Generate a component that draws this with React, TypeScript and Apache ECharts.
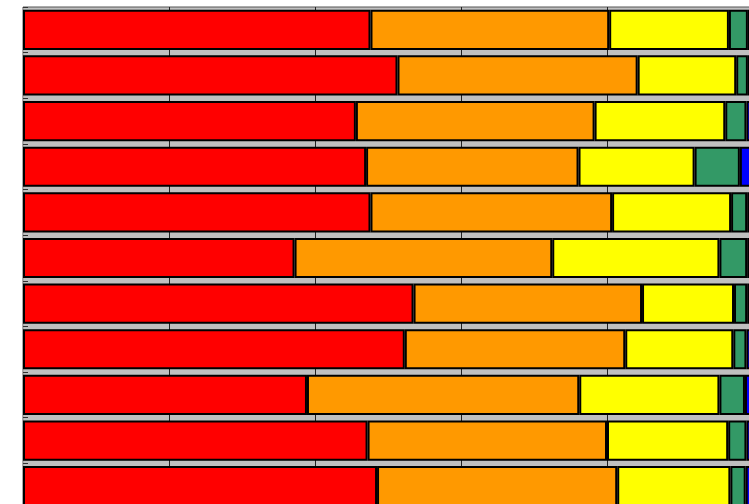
import React, { useEffect, useRef } from "react";
import * as echarts from "echarts";

const categories = ["1", "2", "3", "4", "5", "6", "7", "8", "9", "10", "11"];
const redValues = [47.6, 51.3, 45.6, 47.0, 47.6, 37.2, 53.5, 52.3, 38.9, 47.2, 48.5];
const orangeValues = [32.7, 32.9, 32.7, 29.1, 33.1, 35.3, 31.3, 30.2, 37.3, 32.8, 32.9];
const yellowValues = [16.4, 13.5, 17.9, 15.9, 16.3, 22.9, 12.6, 14.8, 19.2, 16.6, 15.5];
const greenValues = [2.6, 1.6, 2.9, 6.2, 2.2, 3.8, 1.8, 1.8, 3.5, 2.5, 2.1];
const blueValues = [0.7, 0.7, 1.0, 1.9, 0.8, 0.8, 0.8, 0.9, 1.1, 0.9, 0.9];

const seriesDefs = [
  { name: "red", data: redValues, color: "#ff0000" },
  { name: "orange", data: orangeValues, color: "#ff9900" },
  { name: "yellow", data: yellowValues, color: "#ffff00" },
  { name: "green", data: greenValues, color: "#339966" },
  { name: "blue", data: blueValues, color: "#0000ff" },
];

export default function App() {
  const ref = useRef<HTMLDivElement>(null);
  useEffect(() => {
    if (!ref.current) return;
    const chart = echarts.init(ref.current, null, { renderer: "svg" });
    chart.setOption({
      animation: false,
      backgroundColor: "#ffffff",
      grid: {
        show: true,
        left: 23,
        top: 7,
        width: 730,
        height: 502,
        outerBoundsMode: "none",
        containLabel: false,
        backgroundColor: "#c0c0c0",
        borderColor: "#555555",
        borderWidth: 1,
      },
      xAxis: {
        type: "value",
        min: 0,
        max: 100,
        interval: 20,
        axisLabel: { show: false },
        axisLine: { show: false },
        axisTick: { show: false },
        splitLine: { show: true, lineStyle: { color: "#222222", width: 1 } },
      },
      yAxis: {
        type: "category",
        data: categories,
        inverse: true,
        axisLabel: { show: false },
        axisLine: { show: true, lineStyle: { color: "#a8a8a8", width: 1 } },
        axisTick: { show: true, inside: true, length: 5, lineStyle: { color: "#333333" } },
        splitLine: { show: false },
      },
      series: seriesDefs.map((s) => ({
        name: s.name,
        type: "bar",
        stack: "total",
        data: s.data,
        barCategoryGap: "12%",
        itemStyle: { color: s.color, borderColor: "#000000", borderWidth: 2 },
      })),
    });
    return () => chart.dispose();
  }, []);
  return (
    <div
      ref={ref}
      style={{ position: "fixed", left: 0, top: 0, width: 749, height: 504 }}
    />
  );
}
